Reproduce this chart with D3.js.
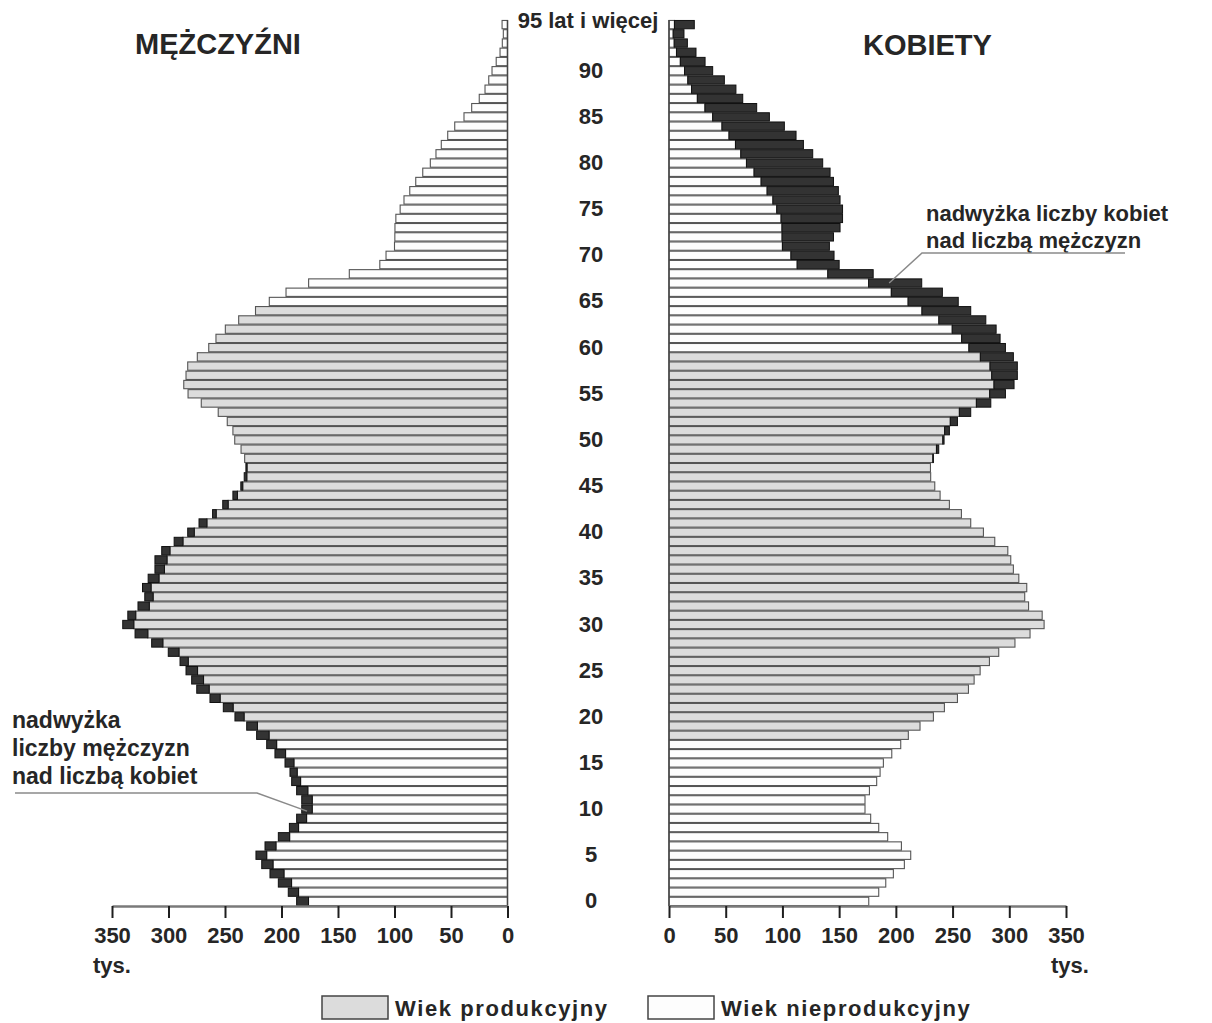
<!doctype html>
<html>
<head>
<meta charset="utf-8">
<title>Piramida wieku</title>
<script type="text/javascript" src="https://d3js.org/d3.v7.min.js"></script>
<style>
  body { margin: 0; background: #fff; }
  text { font-family: "Liberation Sans", Arial, sans-serif; font-weight: bold; fill: #262626; }
</style>
</head>
<body>
<script type="text/javascript">

    // population in thousands, index = age (last entry = 95 and more)
    var male = [
        186.6, 194, 202.8, 210.2, 217.5, 222.6, 214.6, 202.8, 193, 186.6,
        182.1, 182.1, 186.6, 191, 192.5, 196.9, 205.8, 213.1, 222, 230.8,
        241.2, 251.5, 263.3, 275, 279.5, 284.5, 289.8, 300.2, 314.9, 329.6,
        340.5, 336, 327, 321, 323, 318, 312, 312, 306, 295,
        283, 273, 261, 252, 243, 236, 233, 231.5, 232.6, 235.8,
        241.4, 243, 248, 256, 271, 282.7, 286.5, 284.5, 283, 274.5,
        264.4, 258, 249.7, 237.9, 223, 210.8, 196, 176, 140, 113,
        107.5, 100, 99.7, 99.6, 98.8, 95, 91.6, 86.5, 81.2, 75,
        68.3, 63.3, 58.6, 52.9, 46.7, 38.5, 31.7, 25, 19.9, 16.6,
        13.7, 10, 6.6, 4.6, 3.7, 4.8
    ];
    var female = [
        176.1, 184.9, 191.1, 197.8, 207.5, 213.1, 204.9, 192.8, 184.9, 177.8,
        172.8, 172.8, 176.7, 183.1, 186.1, 189, 196.4, 204.3, 211, 221.3,
        233.1, 242.8, 254.3, 264, 269, 274.3, 282.5, 290.7, 305, 318.3,
        330.7, 329, 317, 313.6, 315.4, 308.4, 303.6, 301.3, 298.7, 287.2,
        277.2, 266, 257.8, 247.2, 239, 234.3, 230.7, 230.5, 233.1, 237.8,
        242.5, 247.2, 254.3, 266, 283.7, 296.6, 304.2, 307.1, 307.1, 303.6,
        296.6, 291.9, 288.4, 279.3, 266, 255, 241, 222.8, 180, 150,
        145.5, 141.4, 145, 150.8, 153, 153, 150.8, 149.3, 145, 142,
        135.5, 126.7, 118.5, 112, 101.7, 88.5, 77.3, 65, 59, 48.8,
        38.5, 31.8, 23.8, 16.2, 13.2, 22.3
    ];

    // working age ranges (wiek produkcyjny)
    var maleWorkAge = [18, 64];
    var femaleWorkAge = [18, 59];

    var ageTicks = [0, 5, 10, 15, 20, 25, 30, 35, 40, 45, 50, 55, 60, 65, 70, 75, 80, 85, 90, 95];
    var ageTickLabels = ["0", "5", "10", "15", "20", "25", "30", "35", "40", "45",
                         "50", "55", "60", "65", "70", "75", "80", "85", "90", "95 lat i więcej"];
    var valueTicks = [0, 50, 100, 150, 200, 250, 300, 350];

    var rows = male.map(function(m, i) {
        return { age: i, m: m, f: female[i] };
    });

    var svg = d3.select("body")
        .append("svg")
        .attr("width", 1212)
        .attr("height", 1023);

    var axisY = 906;

    var y = d3.scaleBand()
        .domain(rows.map(function(d) { return d.age; }))
        .range([axisY, 20])
        .paddingInner(0.1)
        .paddingOuter(0.05);

    var xM = d3.scaleLinear().domain([0, 350]).range([507.5, 112]);
    var xF = d3.scaleLinear().domain([0, 350]).range([669, 1066]);

    function inRange(a, r) { return a >= r[0] && a <= r[1]; }

    // male side
    var gm = svg.append("g");
    gm.selectAll("rect.base")
        .data(rows)
        .enter()
        .append("rect")
        .attr("class", "base")
        .attr("x", function(d) { return xM(Math.min(d.m, d.f)); })
        .attr("y", function(d) { return y(d.age); })
        .attr("width", function(d) { return xM(0) - xM(Math.min(d.m, d.f)); })
        .attr("height", y.bandwidth())
        .attr("fill", function(d) { return inRange(d.age, maleWorkAge) ? "#dcdcdc" : "#fdfdfd"; })
        .attr("stroke", "#555")
        .attr("stroke-width", 1.1);

    gm.selectAll("rect.excess")
        .data(rows.filter(function(d) { return d.m > d.f; }))
        .enter()
        .append("rect")
        .attr("class", "excess")
        .attr("x", function(d) { return xM(d.m); })
        .attr("y", function(d) { return y(d.age); })
        .attr("width", function(d) { return xM(d.f) - xM(d.m); })
        .attr("height", y.bandwidth())
        .attr("fill", "#333")
        .attr("stroke", "#111")
        .attr("stroke-width", 1);

    // female side
    var gf = svg.append("g");
    gf.selectAll("rect.base")
        .data(rows)
        .enter()
        .append("rect")
        .attr("class", "base")
        .attr("x", xF(0))
        .attr("y", function(d) { return y(d.age); })
        .attr("width", function(d) { return xF(Math.min(d.m, d.f)) - xF(0); })
        .attr("height", y.bandwidth())
        .attr("fill", function(d) { return inRange(d.age, femaleWorkAge) ? "#dcdcdc" : "#fdfdfd"; })
        .attr("stroke", "#555")
        .attr("stroke-width", 1.1);

    gf.selectAll("rect.excess")
        .data(rows.filter(function(d) { return d.f > d.m; }))
        .enter()
        .append("rect")
        .attr("class", "excess")
        .attr("x", function(d) { return xF(d.m); })
        .attr("y", function(d) { return y(d.age); })
        .attr("width", function(d) { return xF(d.f) - xF(d.m); })
        .attr("height", y.bandwidth())
        .attr("fill", "#333")
        .attr("stroke", "#111")
        .attr("stroke-width", 1);

    // vertical base lines
    [xM(0), xF(0)].forEach(function(x) {
        svg.append("line")
            .attr("x1", x).attr("x2", x)
            .attr("y1", y.range()[1]).attr("y2", axisY)
            .attr("stroke", "#444")
            .attr("stroke-width", 1.5);
    });

    // value axes
    function styleAxis(g) {
        g.select(".domain").attr("stroke", "#7a7a7a").attr("stroke-width", 2.5);
        g.selectAll(".tick line").attr("stroke", "#1e1e1e").attr("stroke-width", 2);
        g.selectAll(".tick text")
            .attr("font-size", 22)
            .attr("font-family", "Liberation Sans, Arial, sans-serif")
            .attr("font-weight", "bold")
            .attr("fill", "#262626");
    }

    svg.append("g")
        .attr("transform", "translate(0," + axisY + ")")
        .call(d3.axisBottom(xM).tickValues(valueTicks).tickSize(12).tickSizeOuter(0).tickPadding(9))
        .call(styleAxis);

    svg.append("g")
        .attr("transform", "translate(0," + axisY + ")")
        .call(d3.axisBottom(xF).tickValues(valueTicks).tickSize(12).tickSizeOuter(0).tickPadding(9))
        .call(styleAxis);

    svg.append("text").attr("x", 93).attr("y", 973).attr("font-size", 22).text("tys.");
    svg.append("text").attr("x", 1051).attr("y", 973).attr("font-size", 22).text("tys.");

    // age labels in the middle
    svg.selectAll("text.age")
        .data(ageTicks)
        .enter()
        .append("text")
        .attr("class", "age")
        .attr("x", function(d, i) { return i == ageTicks.length - 1 ? 588 : 591; })
        .attr("y", function(d, i) {
            var c = y(d) + y.bandwidth() / 2;
            return i == ageTicks.length - 1 ? c + 3 : c + 7;
        })
        .attr("text-anchor", "middle")
        .attr("font-size", 22)
        .text(function(d, i) { return ageTickLabels[i]; });

    // titles
    svg.append("text").attr("x", 135).attr("y", 54).attr("font-size", 29).text("MĘŻCZYŹNI");
    svg.append("text").attr("x", 863).attr("y", 55).attr("font-size", 29).text("KOBIETY");

    // annotation: men surplus
    var leftNote = ["nadwyżka", "liczby mężczyzn", "nad liczbą kobiet"];
    svg.selectAll("text.noteL")
        .data(leftNote)
        .enter()
        .append("text")
        .attr("x", 12)
        .attr("y", function(d, i) { return 728 + i * 28; })
        .attr("font-size", 23)
        .text(function(d) { return d; });

    var pm = rows[10];
    svg.append("polyline")
        .attr("points", [[15, 793], [257, 793],
            [xM((pm.m + pm.f) / 2), y(pm.age) + y.bandwidth() / 2 + 2]].join(" "))
        .attr("fill", "none")
        .attr("stroke", "#8a8a8a")
        .attr("stroke-width", 1.5);

    // annotation: women surplus
    var rightNote = ["nadwyżka liczby kobiet", "nad liczbą mężczyzn"];
    svg.selectAll("text.noteR")
        .data(rightNote)
        .enter()
        .append("text")
        .attr("x", 926)
        .attr("y", function(d, i) { return 221 + i * 27; })
        .attr("font-size", 22)
        .text(function(d) { return d; });

    var pf = rows[67];
    svg.append("polyline")
        .attr("points", [[1125, 253], [922, 253],
            [xF((pf.m + pf.f) / 2) - 6, y(pf.age) + y.bandwidth() / 2]].join(" "))
        .attr("fill", "none")
        .attr("stroke", "#8a8a8a")
        .attr("stroke-width", 1.5);

    // legend
    var legend = [
        { label: "Wiek produkcyjny", fill: "#dcdcdc", x: 322 },
        { label: "Wiek nieprodukcyjny", fill: "#fdfdfd", x: 648 }
    ];
    var lg = svg.selectAll("g.legend")
        .data(legend)
        .enter()
        .append("g")
        .attr("class", "legend")
        .attr("transform", function(d) { return "translate(" + d.x + ",996)"; });

    lg.append("rect")
        .attr("width", 66)
        .attr("height", 23)
        .attr("fill", function(d) { return d.fill; })
        .attr("stroke", "#444")
        .attr("stroke-width", 1.5);

    lg.append("text")
        .attr("x", 73)
        .attr("y", 20)
        .attr("font-size", 22)
        .attr("letter-spacing", 1.6)
        .text(function(d) { return d.label; });

</script>
</body>
</html>
